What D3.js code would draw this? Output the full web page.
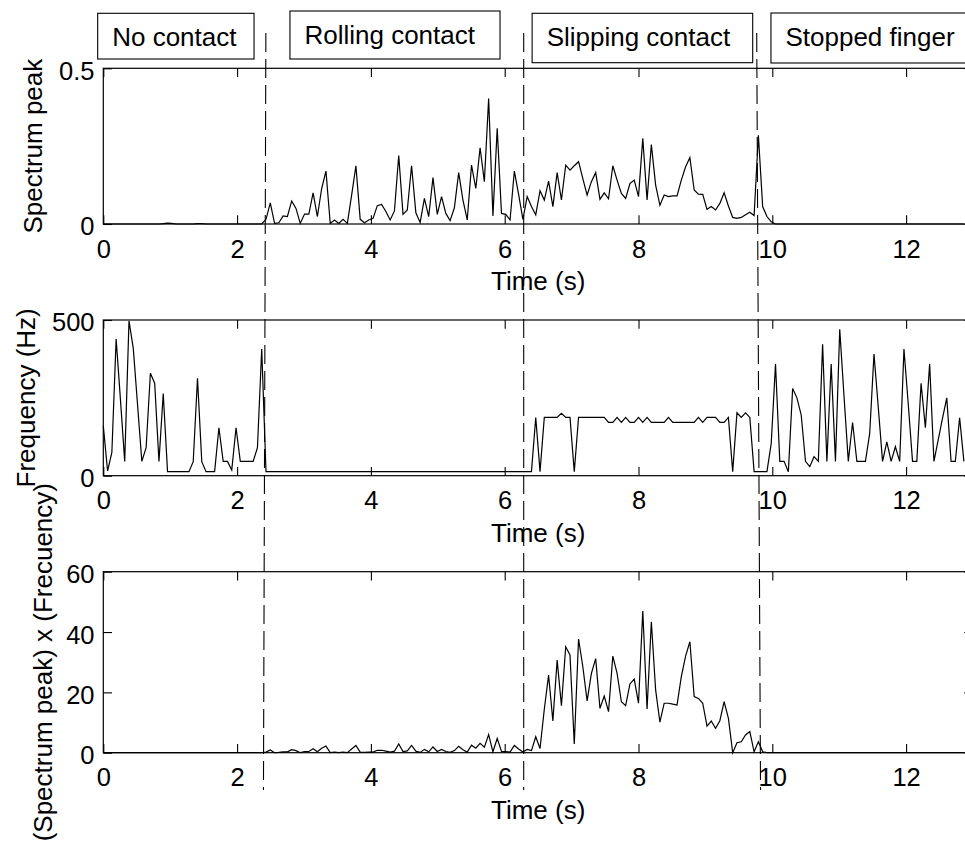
<!DOCTYPE html>
<html><head><meta charset="utf-8">
<script src="https://cdn.jsdelivr.net/npm/d3@7"></script>
<style>
html,body{margin:0;padding:0;background:#fff;}
svg{display:block;font-family:"Liberation Sans",Arial,Helvetica,sans-serif;}
</style></head><body>
<svg id="chart" width="965" height="842"></svg>
<script>
// ---------- data ----------
const sampleInterval = 0.064; // seconds between samples
const spectrumPeak = [
 0,0,0,0,0,0,0,0,0,0,0,0,0,0,0.001,0.003,0.002,0,0,0,0,0,0.001,0.001,0,0,0,0,0,0,0,0,0,0,0,0,0,0,
 0.015,0.068,0.002,0.004,0.026,0.024,0.074,0.050,0.002,0.032,0.032,0.100,0.024,0.114,0.170,0.002,0.013,0.002,0.015,0.002,
 0.093,0.187,0.015,0.004,0.013,0.018,0.059,0.063,0.040,0.013,0.042,0.220,0.031,0.045,0.187,0.036,0.005,0.082,0.024,0.149,
 0.031,0.088,0.034,0.011,0.052,0.165,0.077,0.013,0.189,0.114,0.245,0.136,0.403,0.026,0.307,0.034,0.031,0.013,0.170,0.095,0.015,
 0.088,0.056,0.029,0.107,0.077,0.138,0.056,0.165,0.077,0.189,0.173,0.187,0.200,0.146,0.093,0.136,0.165,0.079,0.100,0.081,
 0.187,0.141,0.098,0.082,0.130,0.141,0.088,0.275,0.077,0.255,0.125,0.060,0.093,0.088,0.090,0.090,0.141,0.184,0.213,0.109,
 0.096,0.095,0.047,0.056,0.045,0.066,0.100,0.058,0.021,0.018,0.021,0.030,0.038,0.027,0.285,0.056,0.024,0.007,0,
 0,0,0,0,0,0,0,0,0,0,0,0,0,0,0,0,0,0,0,0,0,0,0,0,0,0,0,0,0,0,0,0,0,0,0,0,0,0,0,0,0,0,0,0
];
const frequencyHz = [
 160,15,75,439,245,46,497,409,228,46,90,329,297,46,264,13,13,13,13,13,13,45,313,45,13,13,13,154,46,46,18,154,46,46,46,46,90,407,
 13,13,13,13,13,13,13,13,13,13,13,13,13,13,13,13,13,13,13,13,13,13,13,13,13,13,13,13,13,13,13,13,13,13,13,13,13,13,13,13,13,13,
 13,13,13,13,13,13,13,13,13,13,13,13,13,13,13,13,13,13,13,13,13,
 187,13,187,187,187,187,200,187,187,13,187,187,187,187,187,187,187,
 171,171,187,171,187,171,171,187,171,187,171,171,171,171,187,171,171,171,171,171,171,187,171,187,187,187,171,171,187,
 13,202,187,202,187,13,13,13,13,104,359,46,46,13,280,250,195,46,29,61,46,422,46,359,46,470,255,46,171,46,46,46,136,391,220,
 46,109,46,93,46,407,230,46,46,297,154,359,46,115,184,250,46,46,186,46
];
const peakTimesFrequency = [
 0,0,0,0,0,0,0,0,0,0,0,0,0,0,0,0,0,0,0,0,0,0,0,0,0,0,0,0,0,0,0,0,0,0,0,0,0,0,
 0.2,0.9,0,0.1,0.3,0.3,1.0,0.7,0,0.4,0.4,1.3,0.3,1.5,2.2,0,0.2,0,0.2,0,1.2,2.4,0.2,0.1,0.2,0.2,0.8,0.8,0.5,0.2,
 0.5,2.9,0.4,0.6,2.4,0.5,0.1,1.1,0.3,1.9,0.4,1.1,0.4,0.1,0.7,2.1,1.0,0.2,2.5,1.5,3.1,1.8,6.0,0.3,4.7,0.4,0.4,0.2,2.4,1.2,0.2,
 1.1,0.7,5.3,1.4,14.4,25.7,10.5,30.7,15.6,35.1,32.4,2.9,37.7,28.5,17.2,26.3,31.2,14.7,18.8,13.6,
 32.0,26.3,16.9,15.6,22.8,24.4,16.4,47.0,14.5,43.4,20.8,10.1,16.4,16.4,16.1,15.8,25.2,32.0,36.8,18.6,
 18.0,16.4,8.8,10.5,8.1,10.6,16.9,11.4,0,3.3,3.6,5.9,7.0,0.3,3.6,0.3,0,
 0,0,0,0,0,0,0,0,0,0,0,0,0,0,0,0,0,0,0,0,0,0,0,0,0,0,0,0,0,0,0,0,0,0,0,0,0,0,0,0,0,0,0,0,0,0
];
const xDomain = [0, 13];
const xTicks = [0, 2, 4, 6, 8, 10, 12];
const peakDomain = [0, 0.5], peakTicks = [0, 0.5];
const freqDomain = [0, 500], freqTicks = [0, 500];
const productDomain = [0, 60], productTicks = [0, 20, 40, 60];
const yTitles = ["Spectrum peak", "Frequency (Hz)", "(Spectrum peak) x (Frecuency)"];
const xTitle = "Time (s)";
const phaseLabels = ["No contact", "Rolling contact", "Slipping contact", "Stopped finger"];
const phaseBoxStart = [-0.084, 2.79, 6.41, 9.98];   // in seconds
const phaseBoxEnd = [2.253, 5.93, 9.707, 13.6];
const phaseBoundaryTop = [2.43, 6.284, 9.767];      // seconds
const phaseBoundaryBottom = [2.394, 6.284, 9.824];

// ---------- layout ----------
const svg = d3.select("#chart");
const left = 103.3, right = 973;
const tickLen = 8.7;
const x = d3.scaleLinear().domain(xDomain).range([left, right]);

const panels = [
  {values: spectrumPeak, domain: peakDomain, ticks: peakTicks, top: 68.3, bottom: 224, title: yTitles[0], titleX: 42, fmt: d3.format("")},
  {values: frequencyHz, domain: freqDomain, ticks: freqTicks, top: 320, bottom: 475.7, title: yTitles[1], titleX: 35, fmt: d3.format("")},
  {values: peakTimesFrequency, domain: productDomain, ticks: productTicks, top: 571.7, bottom: 752.7, title: yTitles[2], titleX: 52, fmt: d3.format("")}
];

panels.forEach(p => {
  const y = d3.scaleLinear().domain(p.domain).range([p.bottom, p.top]);
  const g = svg.append("g");

  // data line
  const line = d3.line().x((d, i) => x(i * sampleInterval)).y(d => y(d));
  g.append("path").datum(p.values)
    .attr("d", line).attr("fill", "none").attr("stroke", "#000")
    .attr("stroke-width", 1.2).attr("stroke-linejoin", "miter");

  // axes (ticks inward on all four sides)
  const bottomAx = g.append("g").attr("transform", `translate(0,${p.bottom})`)
    .call(d3.axisBottom(x).tickValues(xTicks).tickSizeInner(-tickLen).tickSizeOuter(0).tickPadding(15.4).tickFormat(d3.format("")));
  const topAx = g.append("g").attr("transform", `translate(0,${p.top})`)
    .call(d3.axisTop(x).tickValues(xTicks).tickSizeInner(-tickLen).tickSizeOuter(0).tickFormat(""));
  const leftAx = g.append("g").attr("transform", `translate(${left},0)`)
    .call(d3.axisLeft(y).tickValues(p.ticks).tickSizeInner(-tickLen).tickSizeOuter(0).tickPadding(8.8).tickFormat(p.fmt));
  const rightAx = g.append("g").attr("transform", `translate(${right},0)`)
    .call(d3.axisRight(y).tickValues(p.ticks).tickSizeInner(-tickLen).tickSizeOuter(0).tickFormat(""));
  [bottomAx, topAx, leftAx, rightAx].forEach(a => {
    a.select(".domain").remove();
    a.selectAll("line").attr("stroke", "#000").attr("stroke-width", 1.1);
    a.selectAll("text").attr("fill", "#000").style("font-size", "25.5px")
      .style("font-family", '"Liberation Sans",Arial,Helvetica,sans-serif');
  });
  bottomAx.selectAll("text").attr("dy", null).attr("y", 33.5);
  leftAx.selectAll("text").attr("dy", "0.43em");

  // frame
  g.append("rect").attr("x", left).attr("y", p.top)
    .attr("width", right - left).attr("height", p.bottom - p.top)
    .attr("fill", "none").attr("stroke", "#000").attr("stroke-width", 1.2);

  // x title
  g.append("text").attr("x", (left + right) / 2).attr("y", p.bottom + 66)
    .attr("text-anchor", "middle").style("font-size", "26px").text(xTitle);

  // y title
  g.append("text")
    .attr("transform", `translate(${p.titleX},${(p.top + p.bottom) / 2}) rotate(-90)`)
    .attr("text-anchor", "middle").style("font-size", "26px").text(p.title);
});

// phase boundaries (dashed)
svg.append("g").selectAll("line").data(phaseBoundaryTop).join("line")
  .attr("x1", d => x(d)).attr("y1", 33)
  .attr("x2", (d, i) => x(phaseBoundaryBottom[i])).attr("y2", 790)
  .attr("stroke", "#000").attr("stroke-width", 1.1).attr("stroke-dasharray", "19,7");

// phase label boxes
const boxTop = [13.3, 11, 13.3, 13], boxBottom = [59, 59, 62.7, 63], textBase = [45.7, 44, 45.7, 45.7];
const boxes = svg.append("g").selectAll("g").data(phaseLabels).join("g");
boxes.append("rect")
  .attr("x", (d, i) => x(phaseBoxStart[i])).attr("y", (d, i) => boxTop[i])
  .attr("width", (d, i) => x(phaseBoxEnd[i]) - x(phaseBoxStart[i]))
  .attr("height", (d, i) => boxBottom[i] - boxTop[i])
  .attr("fill", "#fff").attr("stroke", "#000").attr("stroke-width", 1.1);
boxes.append("text")
  .attr("x", (d, i) => x(phaseBoxStart[i]) + 14.5).attr("y", (d, i) => textBase[i])
  .style("font-size", "26px").text(d => d);
</script>
</body></html>
